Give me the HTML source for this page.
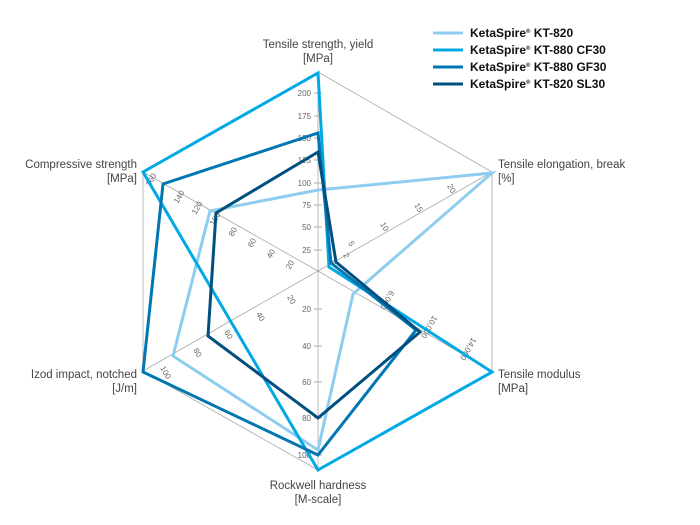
<!DOCTYPE html>
<html><head><meta charset="utf-8"><style>
body{margin:0;background:#fff}
svg{display:block;font-family:"Liberation Sans",Arial,sans-serif}
.t{font-size:8px;fill:#666}
.l{font-size:11.5px;fill:#444}
</style></head><body>
<svg width="700" height="525" viewBox="0 0 700 525">
<g stroke="#aaa" stroke-width="0.8" fill="none">
<polygon points="318,72 492,172 492,371 318,470 143,371 143,172"/>
<line x1="318" y1="271" x2="318" y2="72"/>
<line x1="318" y1="271" x2="492" y2="172"/>
<line x1="318" y1="271" x2="492" y2="371"/>
<line x1="318" y1="271" x2="318" y2="470"/>
<line x1="318" y1="271" x2="143" y2="371"/>
<line x1="318" y1="271" x2="143" y2="172"/>
</g>
<g stroke="#999" stroke-width="0.8">
<line x1="314" y1="250" x2="322" y2="250"/><line x1="314" y1="227" x2="322" y2="227"/><line x1="314" y1="205" x2="322" y2="205"/><line x1="314" y1="183" x2="322" y2="183"/><line x1="314" y1="160" x2="322" y2="160"/><line x1="314" y1="138" x2="322" y2="138"/><line x1="314" y1="116" x2="322" y2="116"/><line x1="314" y1="93" x2="322" y2="93"/>
<line x1="314" y1="309" x2="322" y2="309"/><line x1="314" y1="346" x2="322" y2="346"/><line x1="314" y1="382" x2="322" y2="382"/><line x1="314" y1="418" x2="322" y2="418"/><line x1="314" y1="455" x2="322" y2="455"/>
</g>
<g class="t" text-anchor="end">
<text x="311" y="253">25</text><text x="311" y="230">50</text><text x="311" y="208">75</text><text x="311" y="186">100</text><text x="311" y="163">125</text><text x="311" y="141">150</text><text x="311" y="119">175</text><text x="311" y="96">200</text>
<text x="311" y="312">20</text><text x="311" y="349">40</text><text x="311" y="385">60</text><text x="311" y="421">80</text><text x="311" y="458">100</text>
</g>
<g class="t">
<text transform="translate(290,270) rotate(-60)">20</text>
<text transform="translate(271,259) rotate(-60)">40</text>
<text transform="translate(252,248) rotate(-60)">60</text>
<text transform="translate(233,237) rotate(-60)">80</text>
<text transform="translate(214,226) rotate(-60)">100</text>
<text transform="translate(196,215) rotate(-60)">120</text>
<text transform="translate(178,204) rotate(-60)">140</text>
<text transform="translate(150,187) rotate(-60)">160</text>
<text transform="translate(287,297) rotate(60)">20</text>
<text transform="translate(256,314) rotate(60)">40</text>
<text transform="translate(224,332) rotate(60)">60</text>
<text transform="translate(193,350) rotate(60)">80</text>
<text transform="translate(160,368) rotate(60)">100</text>
<text transform="translate(330,262) rotate(60)">0</text>
<text transform="translate(343,255) rotate(60)">2</text>
<text transform="translate(348,243) rotate(60)">5</text>
<text transform="translate(380,224) rotate(60)">10</text>
<text transform="translate(414,205) rotate(60)">15</text>
<text transform="translate(447,186) rotate(60)">20</text>
<text transform="translate(390,290) rotate(120)">6,000</text>
<text transform="translate(433,315) rotate(120)">10,000</text>
<text transform="translate(472,337) rotate(120)">14,000</text>
</g>
<g fill="none" stroke-width="3" stroke-linejoin="miter">
<polygon stroke="#8ecdf0" points="318,190 492,173 353,294 318,450 173,356 210,211"/>
<polygon stroke="#00a9e6" points="318,73 329,267 492,372 318,470 143,172"/>
<polygon stroke="#0077b0" points="318,133 331,263 416,330 318,455 143,372 163,184"/>
<polygon stroke="#00507f" points="318,152 336,262 420,332 318,418 208,336 216,213"/>
</g>
<g class="l">
<text x="318" y="48" text-anchor="middle">Tensile strength, yield</text>
<text x="318" y="62" text-anchor="middle">[MPa]</text>
<text x="498" y="168">Tensile elongation, break</text>
<text x="498" y="182">[%]</text>
<text x="498" y="378">Tensile modulus</text>
<text x="498" y="392">[MPa]</text>
<text x="318" y="489" text-anchor="middle">Rockwell hardness</text>
<text x="318" y="503" text-anchor="middle">[M-scale]</text>
<text x="137" y="168" text-anchor="end">Compressive strength</text>
<text x="137" y="182" text-anchor="end">[MPa]</text>
<text x="137" y="378" text-anchor="end">Izod impact, notched</text>
<text x="137" y="392" text-anchor="end">[J/m]</text>
</g>
<g stroke-width="3">
<line x1="433" y1="33" x2="463" y2="33" stroke="#8ecdf0"/>
<line x1="433" y1="50" x2="463" y2="50" stroke="#00a9e6"/>
<line x1="433" y1="67" x2="463" y2="67" stroke="#0077b0"/>
<line x1="433" y1="84" x2="463" y2="84" stroke="#00507f"/>
</g>
<g font-size="12" font-weight="bold" fill="#111">
<text x="470" y="37">KetaSpire<tspan font-size="6" dy="-4">®</tspan><tspan dy="4"> KT-820</tspan></text>
<text x="470" y="54">KetaSpire<tspan font-size="6" dy="-4">®</tspan><tspan dy="4"> KT-880 CF30</tspan></text>
<text x="470" y="71">KetaSpire<tspan font-size="6" dy="-4">®</tspan><tspan dy="4"> KT-880 GF30</tspan></text>
<text x="470" y="88">KetaSpire<tspan font-size="6" dy="-4">®</tspan><tspan dy="4"> KT-820 SL30</tspan></text>
</g>
</svg>
</body></html>
